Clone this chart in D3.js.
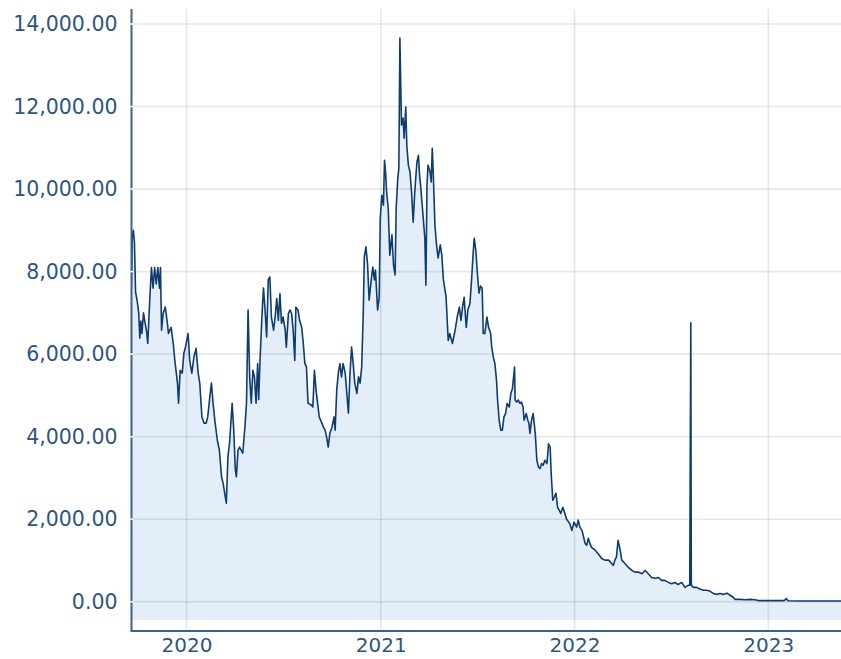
<!DOCTYPE html>
<html><head><meta charset="utf-8">
<script src="https://cdn.jsdelivr.net/npm/d3@7"></script>
<style>body{margin:0;background:#fff}svg{display:block}text{font-family:"DejaVu Sans",Verdana,sans-serif}</style>
</head><body><svg id="c" width="841" height="659"></svg>
<script>
const dates = ["2019-09-19","2019-09-21","2019-09-23","2019-09-25","2019-09-27","2019-09-30","2019-10-03","2019-10-05","2019-10-07","2019-10-09","2019-10-12","2019-10-15","2019-10-18","2019-10-20","2019-10-24","2019-10-27","2019-10-30","2019-11-02","2019-11-05","2019-11-08","2019-11-11","2019-11-13","2019-11-15","2019-11-18","2019-11-22","2019-11-26","2019-11-28","2019-12-03","2019-12-07","2019-12-10","2019-12-15","2019-12-17","2019-12-20","2019-12-24","2019-12-27","2019-12-30",
"2020-01-04","2020-01-07","2020-01-11","2020-01-15","2020-01-19","2020-01-23","2020-01-26","2020-01-30","2020-02-03","2020-02-07","2020-02-10","2020-02-14","2020-02-17","2020-02-20","2020-02-24","2020-02-28","2020-03-03","2020-03-07","2020-03-10","2020-03-13","2020-03-16","2020-03-19","2020-03-22","2020-03-27","2020-03-30","2020-04-02","2020-04-04","2020-04-07","2020-04-10","2020-04-13","2020-04-16","2020-04-20","2020-04-23","2020-04-26","2020-04-29","2020-05-02","2020-05-05","2020-05-08","2020-05-11","2020-05-14","2020-05-16","2020-05-18","2020-05-22","2020-05-25","2020-05-28","2020-05-31","2020-06-03","2020-06-06","2020-06-09","2020-06-13","2020-06-16","2020-06-19","2020-06-22","2020-06-25","2020-06-28","2020-07-01","2020-07-05","2020-07-07","2020-07-11","2020-07-14","2020-07-17","2020-07-20","2020-07-23","2020-07-25","2020-07-29","2020-08-01","2020-08-05","2020-08-08","2020-08-11","2020-08-14","2020-08-17","2020-08-23","2020-08-26","2020-08-29","2020-09-01","2020-09-04","2020-09-07","2020-09-12","2020-09-15","2020-09-18","2020-09-21","2020-09-24","2020-09-27","2020-10-01","2020-10-05","2020-10-07","2020-10-10","2020-10-13","2020-10-16","2020-10-19","2020-10-22","2020-10-26","2020-10-29","2020-11-01","2020-11-04","2020-11-07","2020-11-10","2020-11-13","2020-11-17","2020-11-20","2020-11-23","2020-11-26","2020-11-29","2020-12-01","2020-12-04","2020-12-07","2020-12-10","2020-12-14","2020-12-17","2020-12-20","2020-12-22","2020-12-26","2020-12-29","2020-12-31",
"2021-01-03","2021-01-06","2021-01-08","2021-01-10","2021-01-12","2021-01-15","2021-01-18","2021-01-22","2021-01-25","2021-01-28","2021-01-30","2021-02-02","2021-02-04","2021-02-06","2021-02-09","2021-02-12","2021-02-14","2021-02-17","2021-02-19","2021-02-22","2021-02-25","2021-02-28","2021-03-03","2021-03-06","2021-03-10","2021-03-13","2021-03-15","2021-03-17","2021-03-20","2021-03-23","2021-03-25","2021-03-27","2021-03-29","2021-03-31","2021-04-04","2021-04-06","2021-04-08","2021-04-10","2021-04-13","2021-04-16","2021-04-19","2021-04-23","2021-04-26","2021-04-29","2021-05-04","2021-05-08","2021-05-11","2021-05-16","2021-05-21","2021-05-25","2021-05-29","2021-06-01","2021-06-04","2021-06-07","2021-06-11","2021-06-14","2021-06-18","2021-06-21","2021-06-24","2021-06-26","2021-06-29","2021-07-02","2021-07-05","2021-07-08","2021-07-11","2021-07-13","2021-07-16","2021-07-20","2021-07-23","2021-07-27","2021-07-29","2021-08-01","2021-08-04","2021-08-07","2021-08-09","2021-08-12","2021-08-15","2021-08-18","2021-08-21","2021-08-24","2021-08-27","2021-08-31","2021-09-03","2021-09-06","2021-09-10","2021-09-11","2021-09-14","2021-09-17","2021-09-20","2021-09-23","2021-09-26","2021-09-28","2021-10-02","2021-10-05","2021-10-07","2021-10-09","2021-10-12","2021-10-15","2021-10-19","2021-10-22","2021-10-25","2021-10-28","2021-10-31","2021-11-03","2021-11-06","2021-11-10","2021-11-13","2021-11-16","2021-11-18","2021-11-21","2021-11-24","2021-11-27","2021-11-30","2021-12-03","2021-12-06","2021-12-10","2021-12-13","2021-12-17","2021-12-23","2021-12-27","2021-12-31",
"2022-01-05","2022-01-08","2022-01-11","2022-01-15","2022-01-18","2022-01-21","2022-01-24","2022-01-27","2022-01-30","2022-02-02","2022-02-09","2022-02-15","2022-02-21","2022-02-27","2022-03-06","2022-03-10","2022-03-15","2022-03-18","2022-03-21","2022-03-24","2022-03-28","2022-03-31","2022-04-06","2022-04-12","2022-04-19","2022-04-25","2022-05-01","2022-05-08","2022-05-14","2022-05-20","2022-05-26","2022-06-02","2022-06-08","2022-06-14","2022-06-20","2022-06-27","2022-07-03","2022-07-09","2022-07-15","2022-07-22","2022-07-28","2022-08-03","2022-08-06","2022-08-08","2022-08-09","2022-08-13","2022-08-19","2022-08-25","2022-09-01","2022-09-07","2022-09-13","2022-09-20","2022-09-26","2022-10-02","2022-10-08","2022-10-15","2022-10-21","2022-10-27","2022-10-30","2022-11-09","2022-11-18","2022-11-28","2022-12-07","2022-12-13","2022-12-26",
"2023-01-14","2023-01-31","2023-02-04","2023-02-07","2023-03-02","2023-04-08","2023-05-18"];
const values = [7600,8900,9000,8700,7500,7300,7000,6390,6800,6500,7000,6750,6530,6260,7380,8100,7600,8100,7700,8100,7600,8100,6580,6990,7140,6750,6500,6650,6260,5850,5300,4810,5610,5540,6020,6170,
6500,5850,5540,5930,6140,5540,5300,4480,4330,4330,4480,4970,5300,4810,4330,3920,3670,3030,2870,2630,2390,3510,3830,4810,4160,3190,3030,3670,3750,3670,3600,4230,4810,7070,5450,4810,5610,5450,4810,5770,4900,5690,6900,7600,7070,6420,7800,7870,6900,6580,6900,7350,6820,7470,6750,6900,6580,6170,6990,7070,6990,6580,5850,7140,7070,6820,6650,6260,5770,5690,4810,4770,4720,5610,5130,4810,4480,4330,4230,4160,3990,3750,4080,4230,4480,4160,5130,5540,5770,5450,5770,5540,5050,4570,5540,6170,5770,5300,5050,5450,5300,5690,6990,8360,8600,8200,7310,7800,8110,7800,8040,7070,7380,9300,
9850,9610,10700,10410,9930,9540,8400,8890,8160,7920,9540,10260,10500,13660,11550,11720,11230,11990,11060,10580,10410,9930,9200,9930,10650,10820,10330,10090,9610,9130,8810,7670,10090,10580,10410,10170,10990,10330,9130,8650,8330,8650,8400,7800,7380,6330,6500,6260,6580,6900,7140,6820,7140,7380,6650,7070,7230,7800,8450,8810,8520,7960,7480,7650,7600,6500,6500,6900,6650,6500,6170,5930,5770,5370,4890,4400,4160,4160,4480,4560,4810,4720,5050,5170,5690,4890,4840,4890,4810,4840,4720,4400,4560,4400,4330,4080,4400,4560,4080,3430,3270,3230,3350,3310,3430,3350,3830,3750,3110,2460,2540,2630,2290,2220,2140,2290,2170,2000,1900,1730,1930,
1810,1980,1810,1730,1570,1410,1370,1540,1410,1320,1250,1160,1050,1010,1010,960,880,1010,1090,1490,1250,1010,930,840,760,720,720,680,760,680,590,570,590,520,520,470,440,470,420,470,350,400,400,6760,400,350,350,310,280,280,260,200,180,200,180,210,160,110,60,60,50,60,50,30,30,
30,30,80,25,20,20,20];
const yTicks = [0,2000,4000,6000,8000,10000,12000,14000];
const xTickYears = ["2020","2021","2022","2023"];
const yDomain = [-707, 14363];
const fillBase = -440;

const parse = d3.timeParse("%Y-%m-%d");
const data = dates.map((d,i)=>({date:parse(d), value:values[i]}));
const svg = d3.select("#c");
const pL = 131.5, pR = 841, pT = 9, pB = 631;
const x = d3.scaleTime().domain([parse("2020-01-01"), parse("2023-01-01")]).range([186.5, 768.3]);
const y = d3.scaleLinear().domain(yDomain).range([pB, pT]);

svg.append("defs").append("clipPath").attr("id","clip")
  .append("rect").attr("x",pL).attr("y",pT).attr("width",pR-pL).attr("height",pB-pT);

const g = svg.append("g").attr("clip-path","url(#clip)");
g.append("path").datum(data)
  .attr("fill","#e3eef9")
  .attr("d", d3.area().x(d=>x(d.date)).y0(y(fillBase)).y1(d=>y(d.value)));

const gridCol = "rgba(0,0,0,0.095)";
g.selectAll(".hg").data(yTicks).enter().append("line")
  .attr("x1",pL).attr("x2",pR).attr("y1",d=>y(d)).attr("y2",d=>y(d))
  .attr("stroke",gridCol).attr("stroke-width",1.6);
const yearDates = xTickYears.map(s=>parse(s+"-01-01"));
g.selectAll(".vg").data(yearDates).enter().append("line")
  .attr("y1",pT).attr("y2",pB).attr("x1",d=>x(d)).attr("x2",d=>x(d))
  .attr("stroke",gridCol).attr("stroke-width",1.6);

g.append("path").datum(data)
  .attr("fill","none").attr("stroke","#0f3c6e").attr("stroke-width",1.6).attr("stroke-linejoin","round")
  .attr("d", d3.line().x(d=>x(d.date)).y(d=>y(d.value)));

const axisCol = "#3a6290", textCol = "#2e5580";
const yAxis = d3.axisLeft(y).tickValues(yTicks).tickFormat(d3.format(",.2f")).tickSize(0).tickPadding(14);
const ya = svg.append("g").attr("transform",`translate(${pL},0)`).call(yAxis);
ya.select(".domain").remove();
ya.selectAll("text").attr("fill",textCol).style("font-size","20.5px").attr("font-family","DejaVu Sans, Verdana, sans-serif");
svg.append("line").attr("x1",pL).attr("x2",pL).attr("y1",pT).attr("y2",pB)
  .attr("stroke",axisCol).attr("stroke-width",2);
svg.selectAll(".ytk").data(yTicks).enter().append("line")
  .attr("x1",pL-2).attr("x2",pL+2).attr("y1",d=>y(d)).attr("y2",d=>y(d))
  .attr("stroke","#fff").attr("stroke-width",1.5);

const xAxis = d3.axisBottom(x).tickValues(yearDates).tickFormat(d3.timeFormat("%Y")).tickSize(0).tickPadding(7);
const xa = svg.append("g").attr("transform",`translate(0,${pB})`).call(xAxis);
xa.select(".domain").remove();
xa.selectAll("text").attr("fill",textCol).style("font-size","20px").attr("font-family","DejaVu Sans, Verdana, sans-serif");
svg.append("line").attr("x1",pL-1).attr("x2",pR).attr("y1",pB).attr("y2",pB)
  .attr("stroke",axisCol).attr("stroke-width",2);
</script></body></html>
